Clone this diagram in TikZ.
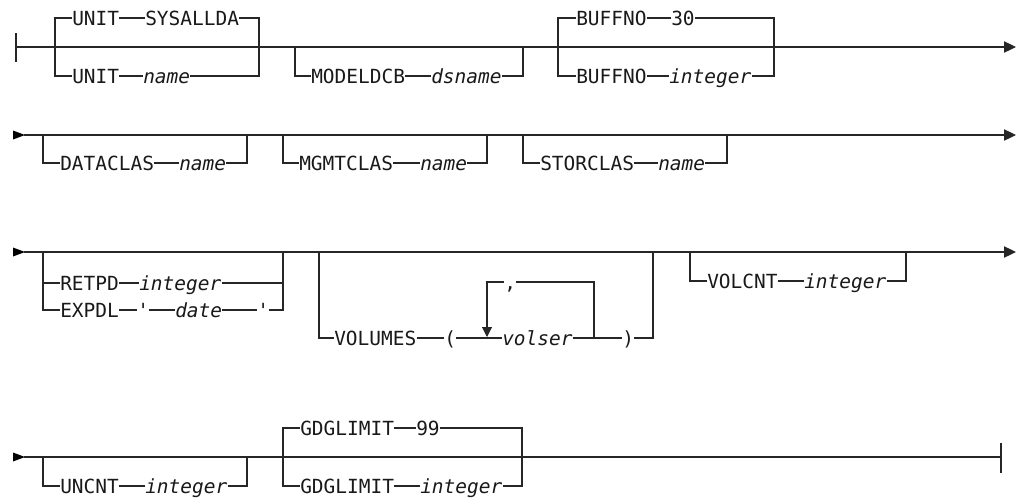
\documentclass[tikz,border=0pt]{standalone}
\usepackage{fontspec}
\setmonofont{DejaVu Sans Mono}
\usetikzlibrary{arrows.meta}
\begin{document}
\begin{tikzpicture}[x=0.75pt,y=-0.75pt,
  rr/.style={line width=0.8pt, draw=black!85},
  endarr/.style={-{Triangle[length=9pt,width=8.5pt]}},
  downarr/.style={-{Triangle[length=7.5pt,width=7.5pt]}},
  tok/.style={font=\ttfamily\fontsize{14.6}{17}\selectfont, inner sep=0pt, text height=11pt, text depth=0pt, anchor=west, text=black!90},
  var/.style={tok, font=\ttfamily\itshape\fontsize{14.6}{17}\selectfont},
  starttri/.style={fill=black}]
\useasboundingbox (0,0) rectangle (1017,497);

% ---------- Row 1 ----------
\coordinate (r1s) at (16,47);
\coordinate (r1e) at (1016,47);
\draw[rr] (16,33) -- (16,62);
\draw[rr,endarr] (r1s) -- (r1e);
% UNIT
\node[tok] (ua)  at (72,18)  {UNIT};
\node[tok] (uav) at (145,18) {SYSALLDA};
\node[tok] (ub)  at (72,76)  {UNIT};
\node[var] (ubv) at (143,76) {name};
\draw[rr] (ua.west) -- (55,18) -- (55,76) -- (ub.west);
\draw[rr] (ua.east) -- (uav.west);
\draw[rr] (ub.east) -- (ubv.west);
\draw[rr] (uav.east) -- (259,18) -- (259,76) -- (ubv.east);
% MODELDCB
\node[tok] (md)  at (311,76) {MODELDCB};
\node[var] (mdv) at (431,76) {dsname};
\draw[rr] (295,47) -- (295,76) -- (md.west);
\draw[rr] (md.east) -- (mdv.west);
\draw[rr] (mdv.east) -- (523,76) -- (523,47);
% BUFFNO
\node[tok] (ba)  at (576,18) {BUFFNO};
\node[tok] (bav) at (671,18) {30};
\node[tok] (bb)  at (576,76) {BUFFNO};
\node[var] (bbv) at (669,76) {integer};
\draw[rr] (ba.west) -- (558,18) -- (558,76) -- (bb.west);
\draw[rr] (ba.east) -- (bav.west);
\draw[rr] (bb.east) -- (bbv.west);
\draw[rr] (bav.east) -- (774,18) -- (774,76) -- (bbv.east);

% ---------- Row 2 ----------
\coordinate (r2s) at (24,135);
\coordinate (r2e) at (1016,135);
\fill[starttri] (13,130.5) -- (25,135) -- (13,139.5) -- cycle;
\draw[rr,endarr] (r2s) -- (r2e);
% DATACLAS
\node[tok] (dc)  at (60,163)  {DATACLAS};
\node[var] (dcv) at (179,163) {name};
\draw[rr] (43,135) -- (43,163) -- (dc.west);
\draw[rr] (dc.east) -- (dcv.west);
\draw[rr] (dcv.east) -- (247,163) -- (247,135);
% MGMTCLAS
\node[tok] (mc)  at (299,163) {MGMTCLAS};
\node[var] (mcv) at (420,163) {name};
\draw[rr] (283,135) -- (283,163) -- (mc.west);
\draw[rr] (mc.east) -- (mcv.west);
\draw[rr] (mcv.east) -- (487,163) -- (487,135);
% STORCLAS
\node[tok] (sc)  at (540,163) {STORCLAS};
\node[var] (scv) at (658,163) {name};
\draw[rr] (523,135) -- (523,163) -- (sc.west);
\draw[rr] (sc.east) -- (scv.west);
\draw[rr] (scv.east) -- (727,163) -- (727,135);

% ---------- Row 3 ----------
\coordinate (r3s) at (24,252);
\coordinate (r3e) at (1016,252);
\fill[starttri] (13,247.5) -- (25,252) -- (13,256.5) -- cycle;
\draw[rr,endarr] (r3s) -- (r3e);
% RETPD / EXPDL
\node[tok] (rp)  at (60,283)  {RETPD};
\node[var] (rpv) at (139,283) {integer};
\node[tok] (ex)  at (60,310)  {EXPDL};
\node[tok] (q1)  at (137,310) {\textquotesingle};
\node[var] (dt)  at (175,310) {date};
\node[tok] (q2)  at (257,310) {\textquotesingle};
\draw[rr] (43,252) -- (43,310) -- (ex.west);
\draw[rr] (43,283) -- (rp.west);
\draw[rr] (rp.east) -- (rpv.west);
\draw[rr] (rpv.east) -- (283,283);
\draw[rr] (ex.east) -- (q1.west);
\draw[rr] (q1.east) -- (dt.west);
\draw[rr] (dt.east) -- (q2.west);
\draw[rr] (283,252) -- (283,310) -- (q2.east);
% VOLUMES
\node[tok] (vo)  at (334,338) {VOLUMES};
\node[tok] (lp)  at (444,338) {(};
\node[var] (vs)  at (502,338) {volser};
\node[tok] (rpa) at (622,338) {)};
\node[tok] (cm)  at (504,282) {,};
\coordinate (lpL) at (487,338);
\coordinate (lpR) at (594,338);
\draw[rr] (319,252) -- (319,338) -- (vo.west);
\draw[rr] (vo.east) -- (lp.west);
\draw[rr] (lp.east) -- (vs.west);
\draw[rr] (vs.east) -- (rpa.west);
\draw[rr] (rpa.east) -- (653,338) -- (653,252);
\draw[rr] (lpR) -- (594,282) -- (cm.east);
\draw[rr,downarr] (cm.west) -- (487,282) -- (487,337);
% VOLCNT
\node[tok] (vc)  at (707,281) {VOLCNT};
\node[var] (vcv) at (804,281) {integer};
\draw[rr] (690,252) -- (690,281) -- (vc.west);
\draw[rr] (vc.east) -- (vcv.west);
\draw[rr] (vcv.east) -- (906,281) -- (906,252);

% ---------- Row 4 ----------
\coordinate (r4s) at (24,457);
\coordinate (r4e) at (1001,457);
\fill[starttri] (13,452.5) -- (25,457) -- (13,461.5) -- cycle;
\draw[rr] (r4s) -- (r4e);
\draw[rr] (1001,443) -- (1001,473);
% UNCNT
\node[tok] (un)  at (60,486)  {UNCNT};
\node[var] (unv) at (145,486) {integer};
\draw[rr] (43,457) -- (43,486) -- (un.west);
\draw[rr] (un.east) -- (unv.west);
\draw[rr] (unv.east) -- (247,486) -- (247,457);
% GDGLIMIT
\node[tok] (ga)  at (300,428) {GDGLIMIT};
\node[tok] (gav) at (416,428) {99};
\node[tok] (gb)  at (300,486) {GDGLIMIT};
\node[var] (gbv) at (420,486) {integer};
\draw[rr] (ga.west) -- (283,428) -- (283,486) -- (gb.west);
\draw[rr] (ga.east) -- (gav.west);
\draw[rr] (gb.east) -- (gbv.west);
\draw[rr] (gav.east) -- (522,428) -- (522,486) -- (gbv.east);
\end{tikzpicture}
\end{document}
